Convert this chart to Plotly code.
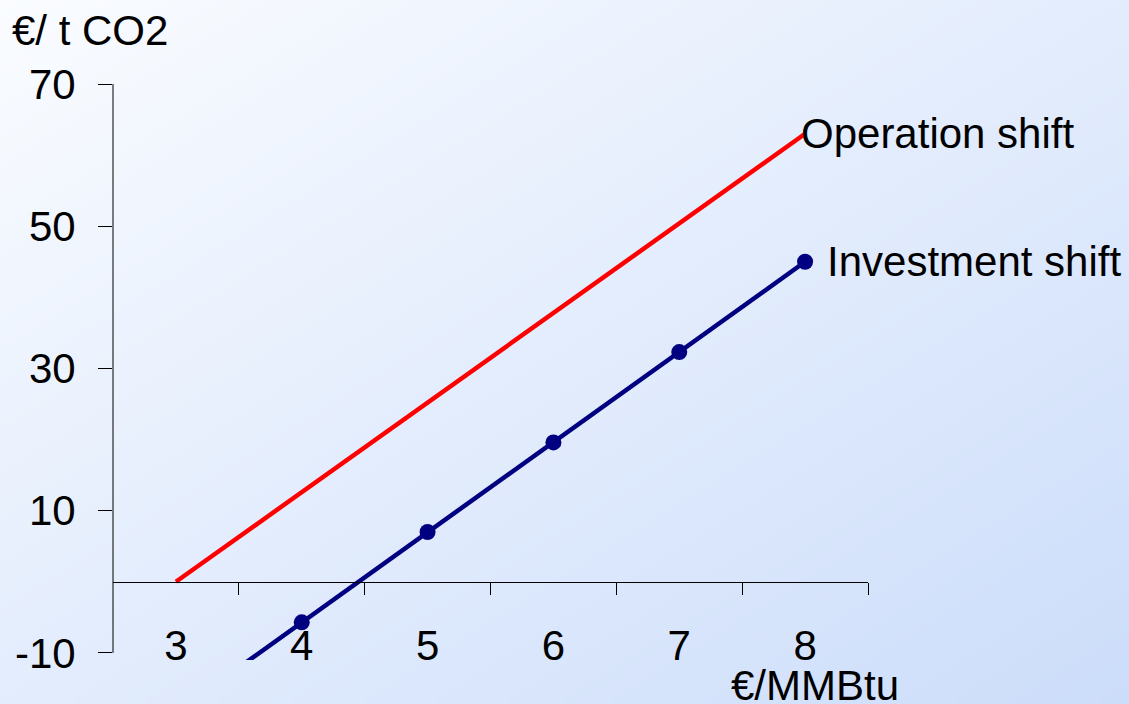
import zlib, struct, base64
import plotly.graph_objects as go

# ---------------- data ----------------
gas_price = [3, 4, 5, 6, 7, 8]                      # €/MMBtu categories
operation_shift = [0.0, 12.6, 25.2, 37.8, 50.4, 63.0]
investment_shift = [-18.4, -5.7, 7.0, 19.6, 32.3, 45.0]
y_ticks = [-10, 10, 30, 50, 70]
series_names = ["Operation shift", "Investment shift"]

# ---------------- layout geometry ----------------
W, H = 1129, 704
L, R, T, B = 113, 261, 84, 44
PW, PH = W - L - R, H - T - B
Y_RANGE = [-11, 70]
X_RANGE = [gas_price[0] - 0.5, gas_price[-1] + 0.5]

def px(xpix):
    return (xpix - L) / PW

def py(ypix):
    return (H - B - ypix) / PH

FONT = "Liberation Sans, Arial, sans-serif"

# ---------------- background gradient image ----------------
def make_png(w, h, c0, c1):
    rows = []
    for j in range(h):
        row = bytearray()
        for i in range(w):
            t = (i / (w - 1) + j / (h - 1)) / 2
            row += bytes(int(round(c0[k] + (c1[k] - c0[k]) * t)) for k in range(3))
        rows.append(b"\x00" + bytes(row))
    raw = b"".join(rows)

    def chunk(tag, data):
        c = struct.pack(">I", len(data)) + tag + data
        return c + struct.pack(">I", zlib.crc32(tag + data) & 0xFFFFFFFF)

    ihdr = struct.pack(">IIBBBBB", w, h, 8, 2, 0, 0, 0)
    return (b"\x89PNG\r\n\x1a\n" + chunk(b"IHDR", ihdr)
            + chunk(b"IDAT", zlib.compress(raw, 9)) + chunk(b"IEND", b""))

png = make_png(282, 176, (250, 252, 255), (204, 221, 250))
bg_src = "data:image/png;base64," + base64.b64encode(png).decode()

# ---------------- figure ----------------
fig = go.Figure()

fig.add_trace(go.Scatter(
    x=gas_price, y=operation_shift, mode="lines", name=series_names[0],
    line=dict(color="#ff0000", width=4.5),
))
fig.add_trace(go.Scatter(
    x=gas_price, y=investment_shift, mode="lines+markers", name=series_names[1],
    xaxis="x2", yaxis="y",
    line=dict(color="#000080", width=4.5),
    marker=dict(color="#000080", size=16),
))

# series labels at the end of each line
fig.add_annotation(x=gas_price[-1], y=operation_shift[-1], xref="x", yref="y",
                   text=series_names[0], showarrow=False, xanchor="left",
                   yanchor="middle", xshift=-6, yshift=0,
                   font=dict(family=FONT, size=42, color="black"))
fig.add_annotation(x=gas_price[-1], y=investment_shift[-1], xref="x", yref="y",
                   text=series_names[1], showarrow=False, xanchor="left",
                   yanchor="middle", xshift=20, yshift=0,
                   font=dict(family=FONT, size=42, color="black"))

# axis titles
fig.add_annotation(x=px(10), y=py(30), xref="paper", yref="paper",
                   text="€/ t CO2", showarrow=False, xanchor="left",
                   yanchor="middle", font=dict(family=FONT, size=42, color="black"))
fig.add_annotation(x=px(729), y=py(685), xref="paper", yref="paper",
                   text="€/MMBtu", showarrow=False, xanchor="left",
                   yanchor="middle", font=dict(family=FONT, size=42, color="black"))

# y axis line only between the first and last tick
fig.add_shape(type="line", xref="paper", yref="y", x0=0, x1=0,
              y0=min(y_ticks), y1=max(y_ticks),
              line=dict(color="black", width=1))

zero_pos = (0 - Y_RANGE[0]) / (Y_RANGE[1] - Y_RANGE[0])
boundaries = [g + 0.5 for g in gas_price]

fig.update_layout(
    width=W, height=H,
    margin=dict(l=L, r=R, t=T, b=B, pad=0, autoexpand=False),
    paper_bgcolor="white",
    plot_bgcolor="rgba(0,0,0,0)",
    showlegend=False,
    font=dict(family=FONT, size=42, color="black"),
    xaxis=dict(
        range=X_RANGE, anchor="free", position=zero_pos,
        showline=True, linecolor="black", linewidth=1,
        tickmode="array", tickvals=boundaries, ticks="outside",
        ticklen=12, tickcolor="black", tickwidth=1,
        showticklabels=False, showgrid=False, zeroline=False,
        automargin=False,
    ),
    xaxis2=dict(
        range=X_RANGE, overlaying="x", anchor="free", position=py(617),
        side="bottom", showline=False, ticks="",
        tickmode="array", tickvals=gas_price, ticktext=[str(g) for g in gas_price],
        showgrid=False, zeroline=False, automargin=False,
        tickfont=dict(family=FONT, size=42, color="black"),
    ),
    yaxis=dict(
        range=Y_RANGE, showline=False, showgrid=False, zeroline=False,
        tickmode="array", tickvals=y_ticks, ticktext=[str(v) for v in y_ticks],
        ticks="outside", ticklen=14,
        tickcolor="black", tickwidth=1, ticklabelstandoff=14,
        automargin=False,
        tickfont=dict(family=FONT, size=42, color="black"),
    ),
    images=[dict(source=bg_src, xref="paper", yref="paper",
                 x=-L / PW, y=1 + T / PH, sizex=W / PW, sizey=H / PH,
                 xanchor="left", yanchor="top", sizing="stretch",
                 layer="below")],
)

fig.write_html("out.html", config={"displayModeBar": False},
               post_script="document.body.style.margin='0';document.body.style.overflow='hidden';")
